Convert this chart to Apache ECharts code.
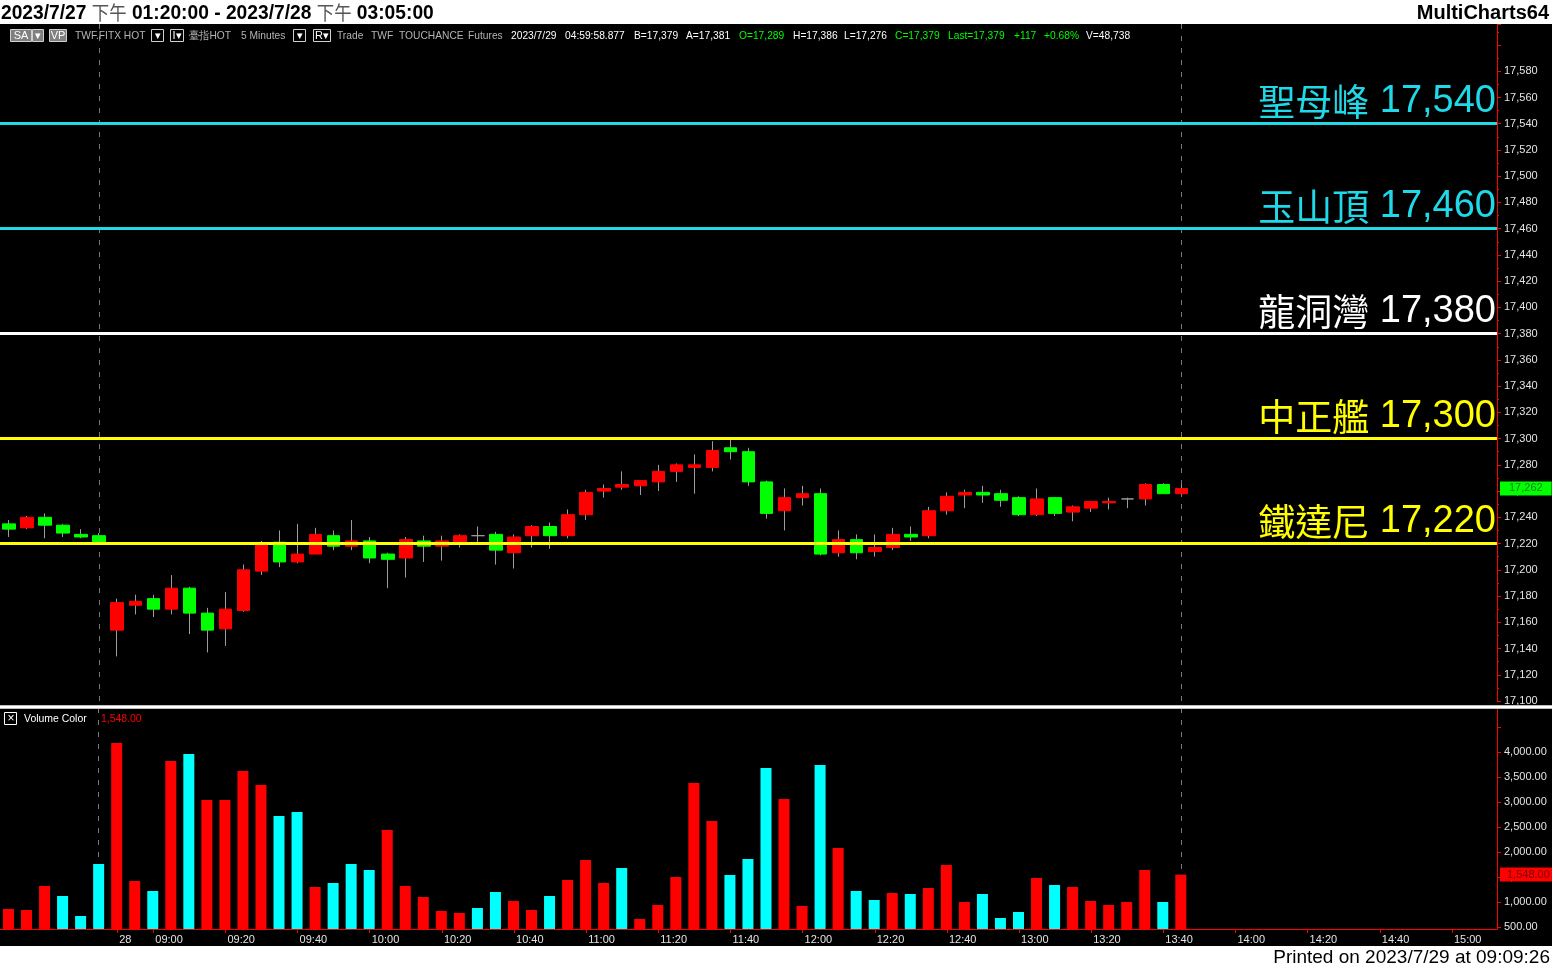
<!DOCTYPE html>
<html><head><meta charset="utf-8">
<script src="https://cdn.jsdelivr.net/npm/echarts@6/dist/echarts.min.js"></script>
<style>html,body{margin:0;padding:0;background:#000;overflow:hidden}#c{width:1552px;height:969px}</style>
</head><body><div id="c"></div>
<script>
// ---------- data ----------
const times = ['04:35','04:40','04:45','04:50','04:55','05:00',
 '08:50','08:55','09:00','09:05','09:10','09:15','09:20','09:25','09:30','09:35','09:40','09:45','09:50','09:55',
 '10:00','10:05','10:10','10:15','10:20','10:25','10:30','10:35','10:40','10:45','10:50','10:55',
 '11:00','11:05','11:10','11:15','11:20','11:25','11:30','11:35','11:40','11:45','11:50','11:55',
 '12:00','12:05','12:10','12:15','12:20','12:25','12:30','12:35','12:40','12:45','12:50','12:55',
 '13:00','13:05','13:10','13:15','13:20','13:25','13:30','13:35','13:40','13:45','13:50','13:55',
 '14:00','14:05','14:10','14:15','14:20','14:25','14:30','14:35','14:40','14:45','14:50','14:55',
 '15:00','15:05','15:10'];
const xTickLabels = {'08:50':'28','09:00':'09:00','09:20':'09:20','09:40':'09:40','10:00':'10:00','10:20':'10:20',
 '10:40':'10:40','11:00':'11:00','11:20':'11:20','11:40':'11:40','12:00':'12:00','12:20':'12:20','12:40':'12:40',
 '13:00':'13:00','13:20':'13:20','13:40':'13:40','14:00':'14:00','14:20':'14:20','14:40':'14:40','15:00':'15:00'};
const opens  = [17235,17232,17240,17234,17227,17226,17154,17173,17178,17170,17186,17167,17155,17169,17199,17221,17206,17212,17226,17218,
 17222,17212,17209,17222,17218,17221,17226,17227,17213,17226,17233,17226,17242,17260,17263,17264,17267,17275,17278,17278,
 17293,17290,17267,17245,17255,17258,17213,17223,17214,17217,17227,17226,17245,17257,17259,17258,17255,17242,17255,17244,
 17247,17251,17254,17254,17265,17258];
const highs  = [17238,17241,17243,17235,17231,17228,17178,17181,17181,17196,17187,17171,17183,17204,17222,17230,17235,17232,17230,17238,
 17225,17213,17225,17226,17226,17227,17233,17229,17227,17234,17236,17246,17261,17265,17275,17268,17280,17281,17288,17298,
 17300,17293,17268,17262,17264,17262,17230,17227,17227,17232,17233,17248,17259,17261,17264,17261,17256,17262,17255,17249,
 17252,17255,17255,17266,17266,17265];
const lows   = [17225,17231,17224,17225,17224,17220,17134,17166,17164,17166,17151,17137,17142,17168,17196,17202,17205,17212,17215,17215,
 17205,17186,17194,17206,17207,17217,17221,17204,17201,17217,17216,17224,17238,17255,17261,17257,17260,17267,17258,17275,
 17284,17264,17239,17230,17249,17211,17210,17208,17210,17215,17222,17224,17242,17247,17251,17248,17241,17241,17241,17237,
 17244,17246,17247,17249,17258,17257];
const closes = [17231,17240,17234,17228,17225,17221,17175,17176,17170,17186,17167,17154,17170,17200,17220,17206,17212,17227,17218,17222,
 17209,17208,17223,17218,17222,17226,17226,17215,17225,17233,17226,17242,17259,17262,17265,17268,17275,17280,17280,17291,
 17290,17267,17243,17255,17258,17212,17223,17213,17217,17227,17225,17245,17256,17259,17257,17253,17242,17254,17243,17248,
 17252,17252,17254,17265,17258,17262];
const volumes = [860,840,1320,1120,720,1760,4180,1420,1220,3820,3960,3040,3040,3620,3340,2720,2800,1300,1380,1760,
 1640,2440,1320,1100,820,780,880,1200,1020,840,1120,1440,1840,1380,1680,660,940,1500,3380,2620,
 1540,1860,3680,3060,920,3740,2080,1220,1040,1180,1160,1280,1740,1000,1160,680,800,1480,1340,1300,
 1020,940,1000,1640,1000,1548];
// 1 = red volume bar, 0 = cyan volume bar
const volRed = [1,1,1,0,0,0,1,1,0,1,0,1,1,1,1,0,0,1,0,0,
 0,1,1,1,1,1,0,0,1,1,0,1,1,1,0,1,1,1,1,1,
 0,0,0,1,1,0,1,0,0,1,0,1,1,1,0,0,0,1,0,1,
 1,1,1,1,0,1];
const levelNames  = ['聖母峰','玉山頂','龍洞灣','中正艦','鐵達尼'];
const levelValues = [17540,17460,17380,17300,17220];
const levelColors = ['#1fd8e8','#1fd8e8','#ffffff','#ffff00','#ffff00'];
const sessionBreak = '05:00';
const lastBarTime = '13:45';

// ---------- helpers ----------
const fmt = v => Number(v).toLocaleString('en-US');
const fmt2 = v => Number(v).toLocaleString('en-US',{minimumFractionDigits:2,maximumFractionDigits:2});
const lastClose = closes[closes.length-1];
const lastVol = volumes[volumes.length-1];
const wickData = opens.map((o,i)=>[o, closes[i], lows[i], highs[i]]);
const bodyData = opens.map((o,i)=>[o, closes[i], Math.min(o,closes[i]), Math.max(o,closes[i])]);
const showTick = (idx, val) => Object.prototype.hasOwnProperty.call(xTickLabels, val);

const RED='#ff0000', GREEN='#00ff00', CYAN='#00ffff', WICK='#9c9c9c', AXIS='#ff0000', LBL='#e4e4e4';
const FONT='"Liberation Sans", Arial, sans-serif';
const CLEAR='rgba(0,0,0,0)';

const dashed = {symbol:['none','none'], silent:true, z:1, animation:false,
  lineStyle:{color:'#777777', type:[5,7], width:1}, label:{show:false},
  data:[{xAxis:sessionBreak},{xAxis:lastBarTime}]};

const levelLines = levelValues.map((v,i)=>({
  yAxis:v,
  lineStyle:{color:levelColors[i], width:3, type:'solid'},
  label:{show:true, position:'insideEndTop', distance:5, offset:[4,2], fontSize:38, color:levelColors[i],
    formatter:'{n|'+levelNames[i]+'} {v|'+fmt(v)+'}',
    rich:{n:{fontFamily:'"Noto Sans CJK TC"', fontSize:37, color:levelColors[i]},
          v:{fontFamily:FONT, fontSize:38, color:levelColors[i]}}}
}));

// ---------- graphics (frame, header texts) ----------
const g = [];
g.push({type:'rect', shape:{x:0,y:0,width:1552,height:24}, style:{fill:'#ffffff'}, z:100});
g.push({type:'rect', shape:{x:0,y:946,width:1552,height:23}, style:{fill:'#ffffff'}, z:100});
g.push({type:'text', x:1, y:13, scaleX:0.915, z:101, style:{
  text:'{a|2023/7/27 }{b|下午}{a| 01:20:00 - 2023/7/28 }{b|下午}{a| 03:05:00}', verticalAlign:'middle',
  rich:{a:{fontFamily:FONT, fontWeight:'bold', fontSize:21, fill:'#000'},
        b:{fontFamily:'"Noto Sans CJK TC"', fontSize:19, fill:'#555'}}}});
g.push({type:'text', x:1549, y:13, z:101, style:{text:'MultiCharts64', font:'bold 20px '+FONT, fill:'#000', align:'right', verticalAlign:'middle'}});
g.push({type:'text', x:1550, y:958, z:101, style:{text:'Printed on 2023/7/29 at 09:09:26', font:'19px '+FONT, fill:'#000', align:'right', verticalAlign:'middle'}});
// pane separator
g.push({type:'rect', shape:{x:0,y:705,width:1552,height:4}, style:{fill:'#bdbdbd'}, z:100});
g.push({type:'rect', shape:{x:0,y:706,width:1552,height:2}, style:{fill:'#ffffff'}, z:100});
// toolbar boxes
const boxes = [
  {x:10,w:21,t:'SA',fill:'#808080'},{x:32,w:11,t:'▾',fill:'#808080'},{x:49,w:17,t:'VP',fill:'#808080'},
  {x:151,w:12,t:'▾',fill:'#000'},{x:170,w:13,t:'I▾',fill:'#000'},{x:293,w:12,t:'▾',fill:'#000'},{x:313,w:17,t:'R▾',fill:'#000'}];
boxes.forEach(b=>{
  g.push({type:'rect', shape:{x:b.x+0.5,y:29.5,width:b.w,height:12}, style:{fill:b.fill, stroke:'#d0d0d0', lineWidth:1}, z:101});
  g.push({type:'text', x:b.x+b.w/2+0.5, y:36, z:102, style:{text:b.t, font:'11px '+FONT, fill:'#ffffff', align:'center', verticalAlign:'middle'}});
});
const infoTexts = [
  ['TWF.FITX HOT',75,'#b4b4b4'],['臺指HOT',189,'#b4b4b4'],['5 Minutes',241,'#b4b4b4'],['Trade',337,'#b4b4b4'],
  ['TWF',371,'#b4b4b4'],['TOUCHANCE',399,'#b4b4b4'],['Futures',468,'#b4b4b4'],
  ['2023/7/29',511,'#ffffff'],['04:59:58.877',565,'#ffffff'],['B=17,379',634,'#ffffff'],['A=17,381',686,'#ffffff'],
  ['O=17,289',739,GREEN],['H=17,386',793,'#ffffff'],['L=17,276',844,'#ffffff'],['C=17,379',895,GREEN],
  ['Last=17,379',948,GREEN],['+117',1014,GREEN],['+0.68%',1044,GREEN],['V=48,738',1086,'#ffffff']];
infoTexts.forEach(t=>{
  g.push({type:'text', x:t[1], y:36, scaleX:0.93, z:101, style:{text:t[0], font:'11px '+FONT, fill:t[2], verticalAlign:'middle'}});
});
// volume pane header
g.push({type:'rect', shape:{x:4.5,y:712.5,width:12,height:12}, style:{fill:'#000', stroke:'#ffffff', lineWidth:1}, z:101});
g.push({type:'text', x:11, y:719, z:102, style:{text:'×', font:'12px '+FONT, fill:'#ffffff', align:'center', verticalAlign:'middle'}});
g.push({type:'text', x:24, y:719, scaleX:0.95, z:101, style:{text:'Volume Color', font:'11px '+FONT, fill:'#ffffff', verticalAlign:'middle'}});
g.push({type:'text', x:101, y:719, scaleX:0.95, z:101, style:{text:fmt2(lastVol), font:'11px '+FONT, fill:RED, verticalAlign:'middle'}});

// ---------- chart ----------
const chart = echarts.init(document.getElementById('c'), null, {renderer:'canvas', width:1552, height:969});
chart.setOption({
  animation:false,
  backgroundColor:'#000000',
  textStyle:{fontFamily:FONT},
  grid:[{left:0, right:55, top:24, height:677},{left:0, right:55, top:709, height:220}],
  xAxis:[
    {type:'category', gridIndex:0, data:times, boundaryGap:true, axisLine:{show:false}, axisTick:{show:false}, axisLabel:{show:false}, splitLine:{show:false}},
    {type:'category', gridIndex:1, data:times, boundaryGap:true,
     axisLine:{show:true, lineStyle:{color:AXIS, width:1}},
     axisTick:{show:true, alignWithLabel:true, interval:showTick, length:4, lineStyle:{color:AXIS}},
     axisLabel:{show:true, interval:showTick, formatter:v=>xTickLabels[v]||'', color:LBL, fontSize:11, align:'left', margin:5, padding:[0,0,0,2]},
     splitLine:{show:false}}
  ],
  yAxis:[
    {type:'value', gridIndex:0, position:'right', min:17100, max:17616, interval:20,
     axisLine:{show:true, lineStyle:{color:AXIS}}, axisTick:{show:true, length:4, lineStyle:{color:AXIS}},
     minorTick:{show:true, splitNumber:2, length:2, lineStyle:{color:AXIS}},
     axisLabel:{color:LBL, fontSize:11, margin:7, showMaxLabel:false, formatter:v=> v>17590 ? '' : fmt(v)},
     splitLine:{show:false}},
    {type:'value', gridIndex:1, position:'right', min:460, max:4860, splitNumber:8,
     axisLine:{show:true, lineStyle:{color:AXIS}}, axisTick:{show:true, length:4, lineStyle:{color:AXIS}},
     axisLabel:{color:LBL, fontSize:11, margin:7, showMinLabel:false, showMaxLabel:false,
       formatter:v=> (v<500||v>4000) ? '' : fmt2(v)},
     splitLine:{show:false}}
  ],
  graphic:g,
  series:[
    {type:'candlestick', name:'wick', xAxisIndex:0, yAxisIndex:0, data:wickData, barWidth:1, z:2, silent:true,
     itemStyle:{color:WICK, color0:WICK, borderColor:WICK, borderColor0:WICK, borderColorDoji:WICK, borderWidth:1},
     markLine:dashed},
    {type:'candlestick', name:'body', xAxisIndex:0, yAxisIndex:0, data:bodyData, barWidth:13, z:3, silent:true,
     itemStyle:{color:RED, color0:GREEN, borderColor:RED, borderColor0:GREEN, borderColorDoji:WICK, borderWidth:1},
     markLine:{symbol:['none','none'], silent:true, z:5, animation:false, data:levelLines}},
    {type:'candlestick', name:'lastTag', xAxisIndex:0, yAxisIndex:0, data:[], z:6, silent:true,
     markLine:{symbol:['none','none'], silent:true, z:6, animation:false,
       data:[{yAxis:lastClose, lineStyle:{color:CLEAR, width:1, type:'solid'},
         label:{show:true, position:'end', distance:3, formatter:fmt(lastClose), backgroundColor:GREEN,
           color:'#167a16', fontSize:11, fontFamily:FONT, padding:[2,9,1,9]}}]}},
    {type:'bar', name:'vol', xAxisIndex:1, yAxisIndex:1, barWidth:11, z:2, silent:true,
     data:volumes.map((v,i)=>({value:v, itemStyle:{color: volRed[i] ? RED : CYAN}})),
     markLine:{symbol:['none','none'], silent:true, z:1, animation:false,
       lineStyle:{color:'#777777', type:[5,7], width:1}, label:{show:false},
       data:[{xAxis:sessionBreak},{xAxis:lastBarTime}]}},
    {type:'bar', name:'volTag', xAxisIndex:1, yAxisIndex:1, data:[], z:6, silent:true,
     markLine:{symbol:['none','none'], silent:true, z:6, animation:false,
       data:[{yAxis:lastVol, lineStyle:{color:CLEAR, width:1, type:'solid'},
          label:{show:true, position:'end', distance:3, formatter:fmt2(lastVol), backgroundColor:RED,
            color:'#7a0000', fontSize:11, fontFamily:FONT, padding:[2,3,1,7]}}]}}
  ]
});
</script></body></html>
